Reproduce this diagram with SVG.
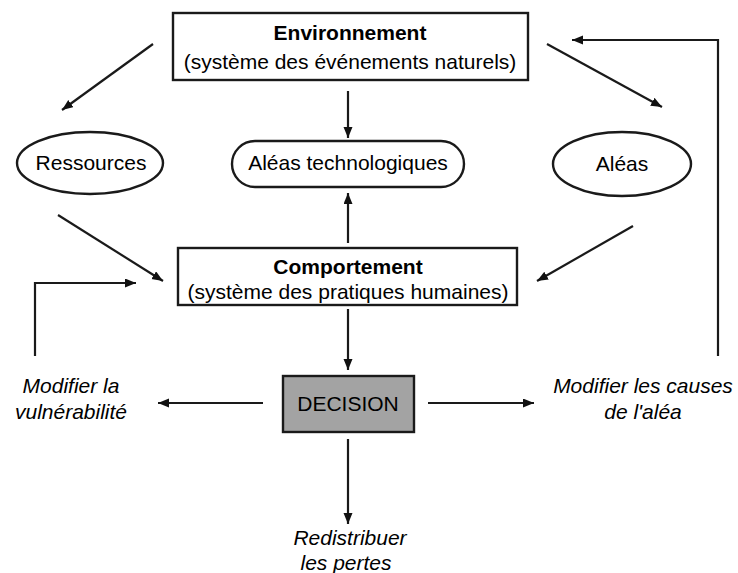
<svg xmlns="http://www.w3.org/2000/svg" width="738" height="573" viewBox="0 0 738 573">
<defs>
<marker id="ah" markerUnits="userSpaceOnUse" markerWidth="12" markerHeight="10" refX="11" refY="4.5" orient="auto">
<path d="M0,0 L11,4.5 L0,9 z" fill="#111"/>
</marker>
<style>
.t{font-family:"Liberation Sans",Arial,sans-serif;font-size:21px;fill:#000;text-anchor:middle}
.b{font-weight:bold}
.i{font-style:italic}
.box{fill:#fff;stroke:#1a1a1a;stroke-width:2.4}
.c{fill:none;stroke:#1a1a1a;stroke-width:2.2}
</style>
</defs>
<rect width="738" height="573" fill="#fff"/>
<g id="connectors">
<line class="c" x1="348" y1="91" x2="348" y2="138" marker-end="url(#ah)"/>
<line class="c" x1="348" y1="243" x2="348" y2="193" marker-end="url(#ah)"/>
<line class="c" x1="348" y1="309" x2="348" y2="370" marker-end="url(#ah)"/>
<line class="c" x1="348" y1="439" x2="348" y2="524" marker-end="url(#ah)"/>
<line class="c" x1="153" y1="44" x2="62" y2="110" marker-end="url(#ah)"/>
<line class="c" x1="547" y1="44" x2="662" y2="107" marker-end="url(#ah)"/>
<line class="c" x1="58" y1="215" x2="163" y2="281" marker-end="url(#ah)"/>
<line class="c" x1="633" y1="226" x2="537" y2="281" marker-end="url(#ah)"/>
<polyline class="c" points="35,356 35,283 136,283" marker-end="url(#ah)"/>
<polyline class="c" points="718,356 718,40 572,40" marker-end="url(#ah)"/>
<line class="c" x1="263" y1="403" x2="158" y2="403" marker-end="url(#ah)"/>
<line class="c" x1="428" y1="403" x2="534" y2="403" marker-end="url(#ah)"/>
</g>
<g id="environnement">
<rect class="box" x="173" y="13" width="355" height="67"/>
<text class="t b" x="350" y="40">Environnement</text>
<text class="t" x="350" y="69">(système des événements naturels)</text>
</g>
<g id="ressources">
<ellipse class="box" cx="90" cy="163" rx="73" ry="31"/>
<text class="t" x="91" y="170">Ressources</text>
</g>
<g id="aleas-techno">
<rect class="box" x="232" y="141" width="232" height="46" rx="23"/>
<text class="t" x="348" y="170">Aléas technologiques</text>
</g>
<g id="aleas">
<ellipse class="box" cx="622" cy="164" rx="69" ry="32"/>
<text class="t" x="622" y="171">Aléas</text>
</g>
<g id="comportement">
<rect class="box" x="178" y="248" width="339" height="57"/>
<text class="t b" x="348" y="274">Comportement</text>
<text class="t" x="348" y="299">(système des pratiques humaines)</text>
</g>
<g id="decision">
<rect class="box" x="283" y="376" width="131" height="56" style="fill:#a3a3a3"/>
<text class="t" x="348" y="411">DECISION</text>
</g>
<g id="modifier-vulnerabilite">
<text class="t i" x="71" y="393">Modifier la</text>
<text class="t i" x="71" y="419">vulnérabilité</text>
</g>
<g id="modifier-causes">
<text class="t i" x="643" y="393">Modifier les causes</text>
<text class="t i" x="643" y="419">de l'aléa</text>
</g>
<g id="redistribuer">
<text class="t i" x="350" y="545">Redistribuer</text>
<text class="t i" x="346" y="570">les pertes</text>
</g>
</svg>
